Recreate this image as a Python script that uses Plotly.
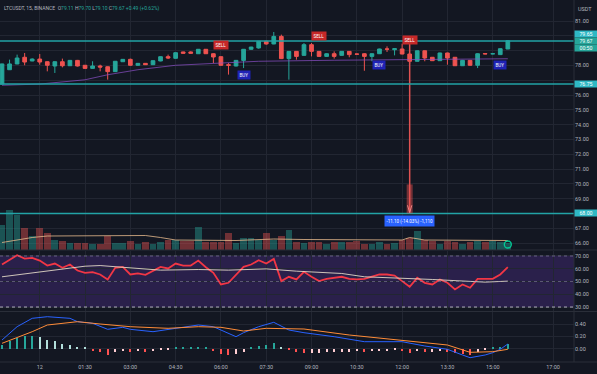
import plotly.graph_objects as go
import pandas as pd

# ---------------- data ----------------
candle_times = pd.date_range("2022-06-11 22:45", periods=68, freq="15min")

opens = [76.74, 77.71, 78.10, 78.55, 78.30, 78.43, 78.25, 77.96, 78.25, 77.98,
         78.34, 78.01, 77.80, 77.96, 77.91, 77.58, 78.25, 78.41, 78.01, 78.14,
         78.05, 78.30, 78.59, 78.48, 78.91, 78.91, 78.79, 79.09, 78.79, 78.59,
         78.05, 77.96, 78.34, 79.09, 79.18, 79.63, 79.45, 79.96, 78.46, 78.95,
         78.68, 79.40, 78.95, 78.61, 78.79, 78.68, 78.95, 78.77, 78.79, 78.61,
         78.79, 79.11, 79.06, 79.11, 78.77, 78.28, 78.99, 78.55, 78.32, 78.84,
         78.55, 77.98, 78.34, 78.01, 78.80, 78.78, 78.73, 79.11]
highs = [78.12, 78.39, 78.73, 78.84, 78.48, 78.77, 78.28, 78.28, 78.46, 78.37,
         78.37, 78.03, 78.28, 78.05, 77.93, 78.30, 78.43, 78.46, 78.16, 78.16,
         78.34, 78.61, 78.73, 78.88, 78.93, 78.95, 79.11, 79.11, 78.82, 78.61,
         78.16, 78.37, 79.11, 79.26, 79.65, 79.67, 80.26, 80.08, 78.97, 78.97,
         79.51, 79.51, 78.97, 78.82, 78.95, 78.97, 78.97, 78.79, 78.82, 78.82,
         79.13, 79.29, 79.15, 79.47, 78.79, 79.01, 79.01, 78.57, 78.86, 78.86,
         78.57, 78.37, 78.37, 78.82, 78.84, 78.82, 79.15, 79.70]
lows = [76.72, 77.69, 78.08, 78.01, 78.28, 78.05, 77.60, 77.49, 77.87, 77.96,
        77.93, 77.78, 77.78, 77.60, 77.04, 77.55, 78.23, 77.98, 77.98, 78.03,
        78.03, 78.28, 78.43, 78.46, 78.79, 78.79, 78.77, 78.77, 78.16, 77.98,
        77.38, 77.93, 77.82, 79.06, 79.13, 79.40, 79.43, 78.43, 77.04, 78.39,
        78.66, 78.61, 78.59, 78.59, 78.46, 78.66, 78.55, 78.73, 77.64, 78.28,
        78.77, 78.91, 78.68, 78.75, 78.10, 78.26, 78.28, 78.30, 78.30, 78.05,
        77.96, 77.96, 77.98, 77.82, 78.75, 78.75, 78.70, 79.10]
closes = [78.10, 78.10, 78.50, 78.23, 78.43, 78.23, 78.01, 78.25, 77.98, 78.34,
          77.96, 77.80, 77.96, 77.89, 77.58, 78.28, 78.41, 78.01, 78.14, 78.05,
          78.32, 78.59, 78.50, 78.86, 78.82, 78.82, 79.09, 78.79, 78.57, 78.01,
          78.01, 78.34, 79.09, 79.24, 79.63, 79.45, 79.96, 78.46, 78.95, 78.61,
          79.40, 78.95, 78.61, 78.79, 78.61, 78.95, 78.73, 78.76, 78.61, 78.79,
          79.11, 79.10, 79.13, 78.77, 78.28, 78.99, 78.50, 78.32, 78.84, 78.50,
          77.98, 78.34, 78.01, 78.79, 78.78, 78.79, 79.13, 79.67]
volumes = [25000, 40000, 35000, 22000, 14000, 22000, 17000, 10000, 9000, 7000,
           7000, 7000, 6000, 6000, 14000, 7000, 7000, 9000, 6000, 8000,
           6000, 8000, 10000, 10000, 9000, 9000, 23000, 8000, 8000, 8000,
           17000, 7000, 12000, 12000, 10000, 17000, 10000, 14000, 20000, 8000,
           7000, 8000, 8000, 6000, 8000, 8000, 8000, 9000, 6000, 6000,
           8000, 6000, 7000, 10000, 12000, 19000, 10000, 9000, 6000, 9000,
           8000, 6000, 8000, 9000, 8000, 9000, 8000, 7000]

# slow moving average on price (candle number -> value)
ma_idx = [1, 6, 12, 15, 19, 24, 30, 35, 45, 55, 68]
ma_val = [76.66, 76.74, 77.03, 77.37, 77.71, 78.01, 78.16, 78.28, 78.35, 78.40, 78.45]

# volume moving average
vma_idx = [1, 5, 7, 14, 20, 22, 24, 32, 37, 41, 50, 54, 55, 57, 68]
vma_val = [7500, 12500, 14000, 14500, 14500, 12500, 10000, 9500, 11000, 10500,
           10000, 10000, 12500, 10000, 9500]

rsi = [63.3, 67.2, 70.6, 68.0, 68.5, 66.4, 62.5, 64.1, 60.7, 63.3,
       58.6, 56.8, 57.3, 55.5, 51.6, 60.7, 61.5, 55.5, 56.3, 55.2,
       58.1, 61.5, 60.2, 64.1, 62.5, 62.5, 66.4, 61.2, 56.8, 47.7,
       49.0, 55.5, 61.5, 63.3, 66.7, 64.1, 67.7, 50.3, 53.7, 51.6,
       57.6, 53.7, 50.3, 52.1, 52.9, 53.7, 52.1, 51.6, 52.1, 53.7,
       55.5, 55.5, 54.7, 50.3, 45.9, 52.9, 49.0, 47.7, 51.6, 49.0,
       43.8, 47.7, 45.1, 52.1, 52.1, 52.1, 55.5, 61.2]
rsi_ma_idx = [1, 5, 8, 12, 14, 16, 19, 22, 27, 31, 36, 40, 46, 49, 58, 62, 65, 68]
rsi_ma_val = [53.7, 56.8, 59.4, 62.0, 62.5, 61.5, 59.9, 58.9, 59.4, 58.9,
              59.9, 58.1, 56.3, 53.7, 51.6, 50.3, 49.5, 50.3]

macd_idx = [1, 3, 5, 7, 10, 11, 13, 15, 17, 18, 21, 23, 25, 27, 29, 31, 32, 33,
            35, 37, 39, 41, 45, 49, 54, 57, 60, 62, 63, 65, 66, 67, 68]
macd_val = [0.144, 0.357, 0.491, 0.517, 0.491, 0.437, 0.411, 0.315, 0.347, 0.315,
            0.277, 0.315, 0.347, 0.384, 0.357, 0.251, 0.197, 0.261, 0.357, 0.427,
            0.304, 0.261, 0.197, 0.117, 0.117, 0.048, -0.005, -0.096, -0.139,
            -0.096, -0.059, -0.005, 0.080]
signal_idx = [1, 5, 7, 11, 14, 18, 23, 27, 30, 33, 36, 41, 47, 54, 60, 63, 66, 68]
signal_val = [0.091, 0.277, 0.384, 0.437, 0.400, 0.357, 0.331, 0.357, 0.347, 0.288,
              0.331, 0.320, 0.224, 0.144, 0.064, -0.053, -0.043, -0.005]
hist = [0.064, 0.128, 0.176, 0.208, 0.208, 0.192, 0.144, 0.128, 0.080, 0.064,
        0.032, 0.016, -0.032, -0.048, -0.096, -0.048, -0.032, -0.048, -0.032, -0.048,
        -0.032, -0.016, -0.016, 0.016, 0.016, 0.016, 0.016, 0.016, -0.032, -0.080,
        -0.096, -0.080, -0.048, 0.016, 0.048, 0.064, 0.096, 0.032, -0.016, -0.048,
        -0.064, -0.064, -0.064, -0.048, -0.048, -0.048, -0.048, -0.032, -0.048, -0.032,
        -0.032, -0.032, -0.016, -0.032, -0.064, -0.032, -0.048, -0.048, -0.032, -0.048,
        -0.064, -0.080, -0.096, -0.048, -0.016, 0.016, 0.032, 0.080]

h_lines = [79.65, 76.75, 68.00]
signals = [("SELL", 30, 79.38), ("BUY", 33, 77.35), ("SELL", 43, 79.99),
           ("BUY", 51, 78.03), ("SELL", 55, 79.72), ("BUY", 67, 78.03)]
measure_candle, measure_from, measure_to = 55, 79.60, 68.00
measure_text = "-11.10 (-14.03%) -1,110"

price_ticks = list(range(66, 82))
price_tick_text = ["66.00", "67.00", "", "69.00", "70.00", "71.00", "72.00", "73.00",
                   "74.00", "75.00", "76.00", "", "78.00", "", "", "81.00"]

tick_times = ["2022-06-12 00:00", "2022-06-12 01:30", "2022-06-12 03:00", "2022-06-12 04:30",
              "2022-06-12 06:00", "2022-06-12 07:30", "2022-06-12 09:00", "2022-06-12 10:30",
              "2022-06-12 12:00", "2022-06-12 13:30", "2022-06-12 15:00", "2022-06-12 17:00"]
tick_text = ["12", "01:30", "03:00", "04:30", "06:00", "07:30", "09:00", "10:30",
             "12:00", "13:30", "15:00", "17:00"]

# ---------------- styling ----------------
BG = "#131722"
GRID = "#222632"
UP, DOWN = "#26a69a", "#ef5350"
TEAL_LINE = "#22a3a6"
TXT = "#b2b5be"
FONT = "Roboto"

def t(i):
    return candle_times[i - 1]

fig = go.Figure()

vol_colors = ["rgba(38,166,154,0.42)" if c >= o else "rgba(239,83,80,0.42)"
              for o, c in zip(opens, closes)]
fig.add_trace(go.Bar(x=candle_times, y=volumes, marker_color=vol_colors,
                     marker_line_width=0, width=800000, yaxis="y4", hoverinfo="skip"))
fig.add_trace(go.Scatter(x=[t(i) for i in vma_idx], y=vma_val, mode="lines",
                         line=dict(color="rgba(230,185,140,0.8)", width=1), yaxis="y4"))
fig.add_trace(go.Scatter(x=[t(68)], y=[5500], mode="markers", yaxis="y4",
                         marker=dict(symbol="circle-open", size=7,
                                     line=dict(color="#9d6ae0", width=1.3))))

fig.add_trace(go.Scatter(x=[t(i) for i in ma_idx], y=ma_val, mode="lines",
                         line=dict(color="rgba(140,80,200,0.7)", width=1), yaxis="y"))
fig.add_trace(go.Candlestick(x=candle_times, open=opens, high=highs, low=lows, close=closes,
                             increasing=dict(line=dict(color=UP, width=1), fillcolor=UP),
                             decreasing=dict(line=dict(color=DOWN, width=1), fillcolor=DOWN),
                             whiskerwidth=0, yaxis="y"))

# measure tool
mt = t(measure_candle)
dt = pd.Timedelta(minutes=6)
fig.add_trace(go.Scatter(x=[mt, mt], y=[measure_from, measure_to], mode="lines",
                         line=dict(color="#e05252", width=1.5), yaxis="y"))
fig.add_trace(go.Scatter(x=[mt - dt * 0.7, mt, mt + dt * 0.7],
                         y=[measure_to + 0.55, measure_to + 0.05, measure_to + 0.55],
                         mode="lines", line=dict(color="#f0b0b0", width=1), yaxis="y"))

# RSI
fig.add_trace(go.Scatter(x=candle_times, y=rsi, mode="lines",
                         line=dict(color="#f23645", width=1.8), yaxis="y2"))
fig.add_trace(go.Scatter(x=[t(i) for i in rsi_ma_idx], y=rsi_ma_val, mode="lines",
                         line=dict(color="rgba(235,225,205,0.85)", width=1), yaxis="y2"))

# MACD
hist_colors = []
for k, v in enumerate(hist):
    prev = hist[k - 1] if k > 0 else 0
    if v >= 0:
        hist_colors.append("#26a69a" if v >= prev else "#b2dfdb")
    else:
        hist_colors.append("#ffcdd2" if v >= prev else "#ff5252")
fig.add_trace(go.Bar(x=candle_times, y=hist, marker_color=hist_colors, marker_line_width=0,
                     width=120000, yaxis="y3"))
fig.add_trace(go.Scatter(x=[t(i) for i in macd_idx], y=macd_val, mode="lines",
                         line=dict(color="#2962ff", width=1), yaxis="y3"))
fig.add_trace(go.Scatter(x=[t(i) for i in signal_idx], y=signal_val, mode="lines",
                         line=dict(color="#ff8c38", width=1), yaxis="y3"))

shapes = []
for p in h_lines:
    shapes.append(dict(type="line", xref="paper", x0=0, x1=1, yref="y", y0=p, y1=p,
                       line=dict(color=TEAL_LINE, width=1.5)))
shapes.append(dict(type="rect", xref="x", x0=mt - dt, x1=mt + dt, yref="y",
                   y0=measure_to, y1=69.96, fillcolor="rgba(239,83,80,0.45)", line_width=0))
shapes.append(dict(type="rect", xref="paper", x0=0, x1=1, yref="y2", y0=30, y1=70,
                   fillcolor="rgba(110,60,200,0.25)", line_width=0, layer="below"))
shapes.append(dict(type="line", xref="paper", x0=0, x1=1, yref="y2", y0=70, y1=70,
                   line=dict(color="rgba(150,140,180,0.6)", width=1, dash="dot")))
shapes.append(dict(type="line", xref="paper", x0=0, x1=1, yref="y2", y0=50, y1=50,
                   line=dict(color="rgba(150,140,180,0.5)", width=1, dash="dot")))
shapes.append(dict(type="line", xref="paper", x0=0, x1=1, yref="y2", y0=30, y1=30,
                   line=dict(color="rgba(220,220,230,0.75)", width=1, dash="3px,3px")))
for yy in [0.3094, 0.1395]:
    shapes.append(dict(type="line", xref="paper", x0=0, x1=1.04, yref="paper", y0=yy, y1=yy,
                       line=dict(color="#2a2e39", width=1)))
shapes.append(dict(type="line", xref="paper", x0=1, x1=1, yref="paper", y0=0, y1=1,
                   line=dict(color="#2a2e39", width=1)))
shapes.append(dict(type="line", xref="paper", x0=0, x1=1.04, yref="paper", y0=0, y1=0,
                   line=dict(color="#2a2e39", width=1)))

annotations = []
title = ("LTCUSDT, 15, BINANCE&nbsp;&nbsp;O<span style='color:#26a69a'>79.11</span> "
         "H<span style='color:#26a69a'>79.70</span> L<span style='color:#26a69a'>79.10</span> "
         "C<span style='color:#26a69a'>79.67</span> <span style='color:#26a69a'>+0.49 (+0.62%)</span>")
annotations.append(dict(xref="paper", yref="paper", x=0.004, y=1, yshift=-3, xanchor="left",
                        yanchor="top", text=title, showarrow=False,
                        font=dict(size=5, color=TXT, family=FONT)))
annotations.append(dict(xref="paper", yref="paper", x=1, y=1, xshift=11, yshift=-4,
                        xanchor="center", yanchor="top", text="USDT", showarrow=False,
                        font=dict(size=5.5, color=TXT, family=FONT)))
for txt, i, p in signals:
    annotations.append(dict(x=t(i), y=p, xref="x", yref="y", text=txt, showarrow=False,
                            bgcolor="#c62828" if txt == "SELL" else "#1f23b5",
                            font=dict(size=4.5, color="white", family=FONT),
                            borderpad=1.5))
annotations.append(dict(x=mt, y=67.47, xref="x", yref="y", text=measure_text, showarrow=False,
                        bgcolor="#2962ff", font=dict(size=4.5, color="white", family=FONT),
                        borderpad=1.5))

def axis_label(y, yref, text, bg, col="white", shift=0):
    annotations.append(dict(xref="paper", x=1, xanchor="left", xshift=0, yref=yref, y=y,
                            yshift=shift, text=text, showarrow=False, bgcolor=bg, width=22,
                            height=6, font=dict(size=5.2, color=col, family=FONT), borderpad=0))

axis_label(h_lines[0], "y", "79.65", "#2fb8c4", shift=7)
axis_label(closes[-1], "y", "79.67", "#26a69a")
axis_label(closes[-1], "y", "00:50", "#26a69a", shift=-7)
axis_label(h_lines[1], "y", "76.75", "#2fb8c4")
axis_label(h_lines[2], "y", "68.00", "#2fb8c4")

tickfont = dict(size=5.5, color=TXT, family=FONT)
fig.update_layout(
    width=597, height=374,
    margin=dict(l=0, r=23, t=0, b=12, autoexpand=False),
    paper_bgcolor=BG, plot_bgcolor=BG,
    showlegend=False, bargap=0,
    shapes=shapes, annotations=annotations,
    xaxis=dict(type="date", range=["2022-06-11 22:41:02", "2022-06-12 17:41:30"],
               anchor="y3", tickvals=tick_times, ticktext=tick_text, tickfont=tickfont,
               showgrid=True, gridcolor=GRID, gridwidth=1, ticks="", zeroline=False,
               showline=False, rangeslider=dict(visible=False), automargin=False),
    yaxis=dict(domain=[0.3094, 1], range=[65.53, 82.42], side="right", anchor="x",
               tickvals=price_ticks, ticktext=price_tick_text, tickfont=tickfont,
               gridcolor=GRID, zeroline=False, showline=False, ticks="", automargin=False),
    yaxis2=dict(domain=[0.1409, 0.3066], range=[26.9, 73.9], side="right", anchor="x",
                tickvals=[30, 40, 50, 60, 70], tickformat=".2f", tickfont=tickfont,
                gridcolor=GRID, zeroline=False, showline=False, ticks="", automargin=False),
    yaxis3=dict(domain=[0, 0.1381], range=[-0.208, 0.592], side="right", anchor="x",
                tickvals=[0, 0.2, 0.4], tickformat=".2f", tickfont=tickfont,
                gridcolor=GRID, zeroline=False, showline=False, ticks="", automargin=False),
    yaxis4=dict(overlaying="y", range=[0, 250000], visible=False, anchor="x"),
)

fig.write_html("out.html")
